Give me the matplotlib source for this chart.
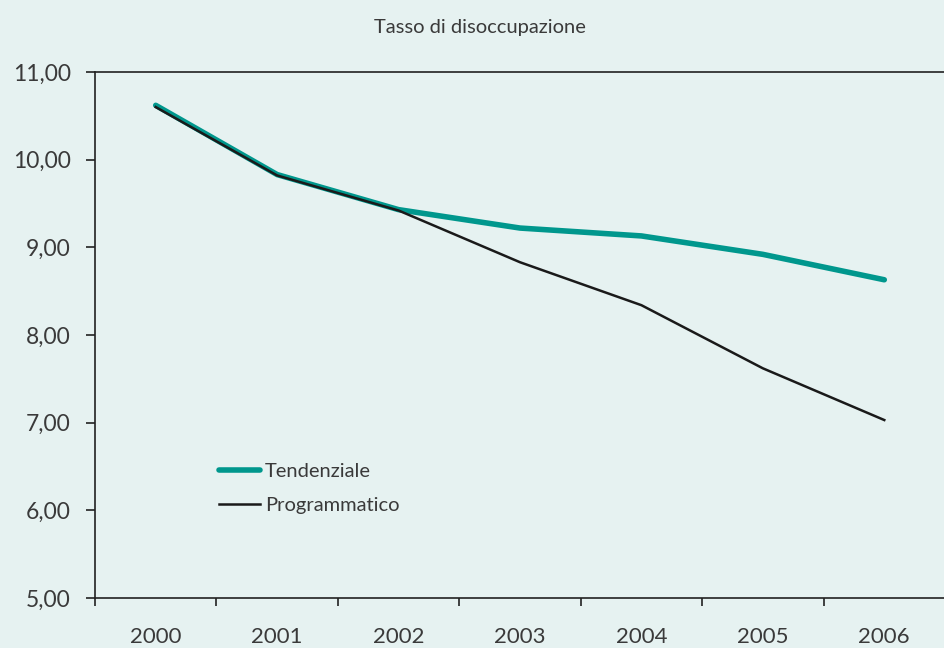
import numpy as np
import matplotlib
matplotlib.use("Agg")
import matplotlib.pyplot as plt
from matplotlib.ticker import FuncFormatter

anni = ["2000", "2001", "2002", "2003", "2004", "2005", "2006"]
tendenziale = [10.62, 9.83, 9.43, 9.22, 9.13, 8.92, 8.63]
programmatico = [10.60, 9.82, 9.42, 8.83, 8.34, 7.62, 7.03]

sfondo = "#e6f2f1"
verde = "#00978d"
testo = "#3a3a3a"

plt.rcParams['font.family'] = ['Lato', 'DejaVu Sans']

fig = plt.figure(figsize=(9.45, 6.48), dpi=100, facecolor=sfondo)
ax = fig.add_axes([95 / 945, 50 / 648, 850 / 945, 526 / 648], facecolor=sfondo)

x = np.arange(len(anni))
ax.plot(x, tendenziale, color=verde, lw=4, solid_capstyle="round", label="Tendenziale")
ax.plot(x, programmatico, color="#1a1a1a", lw=1.8, label="Programmatico")

ax.set_ylim(5, 11)
ax.set_yticks(np.arange(5, 12, 1))
ax.yaxis.set_major_formatter(FuncFormatter(lambda v, p: f"{v:.2f}".replace(".", ",")))

# x: tacche ai confini delle categorie, etichette al centro
ax.set_xlim(-0.5, -0.5 + 850 / 122.2)
ax.set_xticks(np.arange(-0.5, 6.6, 1))
ax.set_xticklabels([])
ax.set_xticks(x, minor=True)
ax.set_xticklabels(anni, minor=True)

ax.tick_params(axis="y", direction="out", length=6.5, width=1.2, color="#222222",
               pad=11, labelsize=16.5, labelcolor=testo)
ax.tick_params(axis="x", which="major", direction="out", length=6, width=1.2, color="#222222")
ax.tick_params(axis="x", which="minor", length=0, pad=21, labelsize=16, labelcolor=testo)

for s in ["left", "bottom", "top"]:
    ax.spines[s].set_color("#222222")
    ax.spines[s].set_linewidth(1.2)
ax.spines["right"].set_visible(False)

leg = ax.legend(loc="lower left", bbox_to_anchor=(0.125, 0.126), frameon=False,
                fontsize=14.5, handlelength=2.0, handletextpad=0.25, labelspacing=0.8)
for t in leg.get_texts():
    t.set_color(testo)

fig.text(480 / 945, 1 - 27 / 648, "Tasso di disoccupazione", ha="center", va="center",
         fontsize=14.5, color=testo)

fig.savefig("out.png", dpi=100, facecolor=sfondo)
